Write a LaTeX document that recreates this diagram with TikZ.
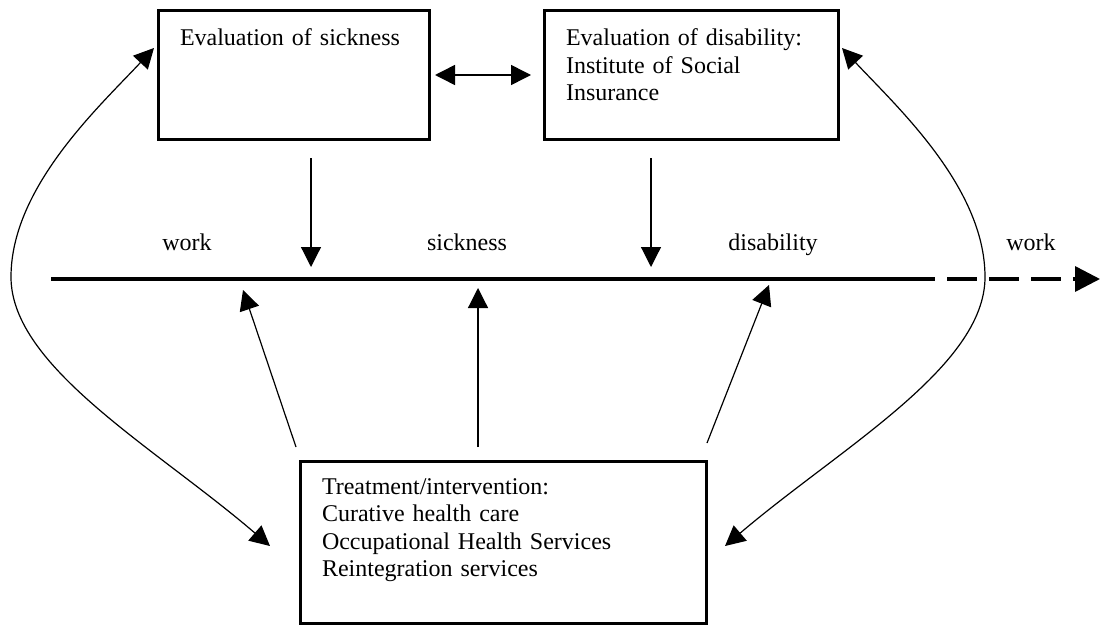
\documentclass[tikz,border=0pt]{standalone}
\usepackage{fontspec}
\setmainfont{Liberation Serif}
\usetikzlibrary{arrows.meta}

\tikzset{
  box/.style={draw, line width=1.5pt, outer sep=0pt, align=left, anchor=north west,
    inner xsep=11pt, inner ysep=8pt},
  thin arrow/.style={-{Triangle[length=10pt,width=10pt]}, line width=0.6pt},
  both arrow/.style={{Triangle[length=10pt,width=10pt]}-{Triangle[length=10pt,width=10pt]}, line width=0.6pt},
  timeline/.style={line width=1.75pt}
}

\begin{document}
\begin{tikzpicture}[x=0.5pt, y=-0.5pt, font=\fontsize{12}{13.75}\selectfont]
  \useasboundingbox (0,0) rectangle (1101,626);

  \node[box, text width=113.5pt, text height=9.5pt, text depth=38.5pt] (sick) at (158,11)
    {Evaluation of sickness};
  \node[box, text width=125pt, text height=9.5pt, text depth=38.5pt] (disab) at (544,11)
    {Evaluation of disability:\\Institute of Social\\Insurance};
  \node[box, text width=181pt, text height=8.5pt, text depth=56.5pt] (treat) at (300,461)
    {Treatment/intervention:\\Curative health care\\Occupational Health Services\\Reintegration services};

  \draw[both arrow, line width=0.75pt] ([xshift=3pt]sick.east) -- ([xshift=-6.5pt]disab.west);

  \coordinate (tl-start) at (51,279);
  \coordinate (tl-solid) at (935,279);
  \coordinate (tl-dash) at (947,279);
  \coordinate (tl-end) at (1100,279);
  \draw[timeline] (tl-start) -- (tl-solid);
  \draw[timeline, dash pattern=on 15pt off 6pt, -{Triangle[length=12.5pt,width=12.5pt]}] (tl-dash) -- (tl-end);

  \foreach \x/\t/\n in {187/work/work-a, 467/sickness/sickness, 773/disability/disability, 1031/work/work-b}
    \node[anchor=base] (\n) at (\x,250) {\t};

  \coordinate (down-a) at (311,267);
  \coordinate (down-b) at (651,267);
  \draw[thin arrow] ([xshift=8.75pt,yshift=-9.5pt]sick.south) -- (down-a);
  \draw[thin arrow] ([xshift=-20pt,yshift=-9.5pt]disab.south) -- (down-b);

  \coordinate (up-a) at (243,290);
  \coordinate (up-b) at (478,288);
  \coordinate (up-c) at (769,285);
  \draw[thin arrow] ([xshift=-2pt,yshift=7pt]treat.north west) -- (up-a);
  \draw[thin arrow] ([xshift=-12.5pt,yshift=7pt]treat.north) -- (up-b);
  \draw[thin arrow] ([xshift=0.5pt,yshift=9pt]treat.north east) -- (up-c);

  \draw[both arrow] ([xshift=-2pt,yshift=-18.5pt]sick.north west)
    .. controls (100,106) and (11,187) .. (11,277)
    .. controls (11,367) and (156,448) .. ([xshift=-15pt,yshift=-42.5pt]treat.north west);
  \draw[both arrow] ([xshift=2pt,yshift=-18.5pt]disab.north east)
    .. controls (896,106) and (985,187) .. (985,277)
    .. controls (985,367) and (840,448) .. ([xshift=9.5pt,yshift=-42.5pt]treat.north east);
\end{tikzpicture}
\end{document}
